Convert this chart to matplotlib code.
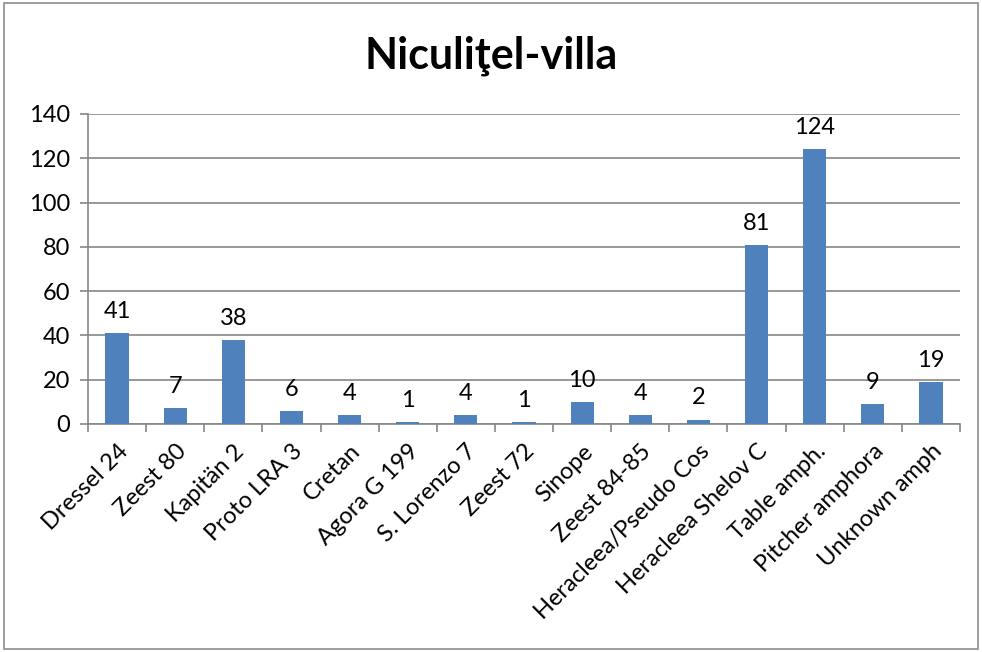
import matplotlib.pyplot as plt
from matplotlib.patches import Rectangle

plt.rcParams['font.family'] = ['Lato', 'DejaVu Sans']

categories = ['Dressel 24', 'Zeest 80', 'Kapitän 2', 'Proto LRA 3', 'Cretan',
              'Agora G 199', 'S. Lorenzo 7', 'Zeest 72', 'Sinope', 'Zeest 84-85',
              'Heracleea/Pseudo Cos', 'Heracleea Shelov C', 'Table amph.',
              'Pitcher amphora', 'Unknown amph']
counts = [41, 7, 38, 6, 4, 1, 4, 1, 10, 4, 2, 81, 124, 9, 19]
yticks = [0, 20, 40, 60, 80, 100, 120, 140]

fig = plt.figure(figsize=(9.82, 6.52), dpi=100)
fig.patches.append(Rectangle((0.004, 0.004), 0.992, 0.992, transform=fig.transFigure,
                             fill=False, edgecolor='#8c8c8c', linewidth=1.2))
ax = fig.add_axes([0.0896, 0.3497, 0.888, 0.4755])

x = list(range(len(categories)))
ax.bar(x, counts, width=0.4, color='#4F81BD', zorder=3)
for xi, v in zip(x, counts):
    ax.annotate(str(v), (xi, v), xytext=(0, 8), textcoords='offset points',
                ha='center', va='bottom', fontsize=17)

ax.set_xlim(-0.5, len(categories) - 0.5)
ax.set_ylim(0, 140)
ax.set_yticks(yticks)
ax.tick_params(axis='y', labelsize=17, length=6, color='#868686', width=1.2, pad=7)
ax.yaxis.grid(True, color='#868686', linewidth=1.2, zorder=0)

ax.set_xticks([i - 0.5 for i in range(len(categories) + 1)])
ax.set_xticklabels([])
ax.set_xticks(x, minor=True)
ax.set_xticklabels(categories, minor=True, rotation=45, ha='right',
                   rotation_mode='anchor', fontsize=17)
ax.tick_params(axis='x', which='major', length=6, color='#868686', width=1.2)
ax.tick_params(axis='x', which='minor', length=0, pad=12)

for s in ['top', 'right']:
    ax.spines[s].set_visible(False)
for s in ['left', 'bottom']:
    ax.spines[s].set_color('#868686')
    ax.spines[s].set_linewidth(1.2)

fig.text(0.5, 0.915, 'Niculiţel-villa', ha='center', va='center',
         fontsize=31, fontweight='bold')

fig.savefig('out.png', dpi=100)
